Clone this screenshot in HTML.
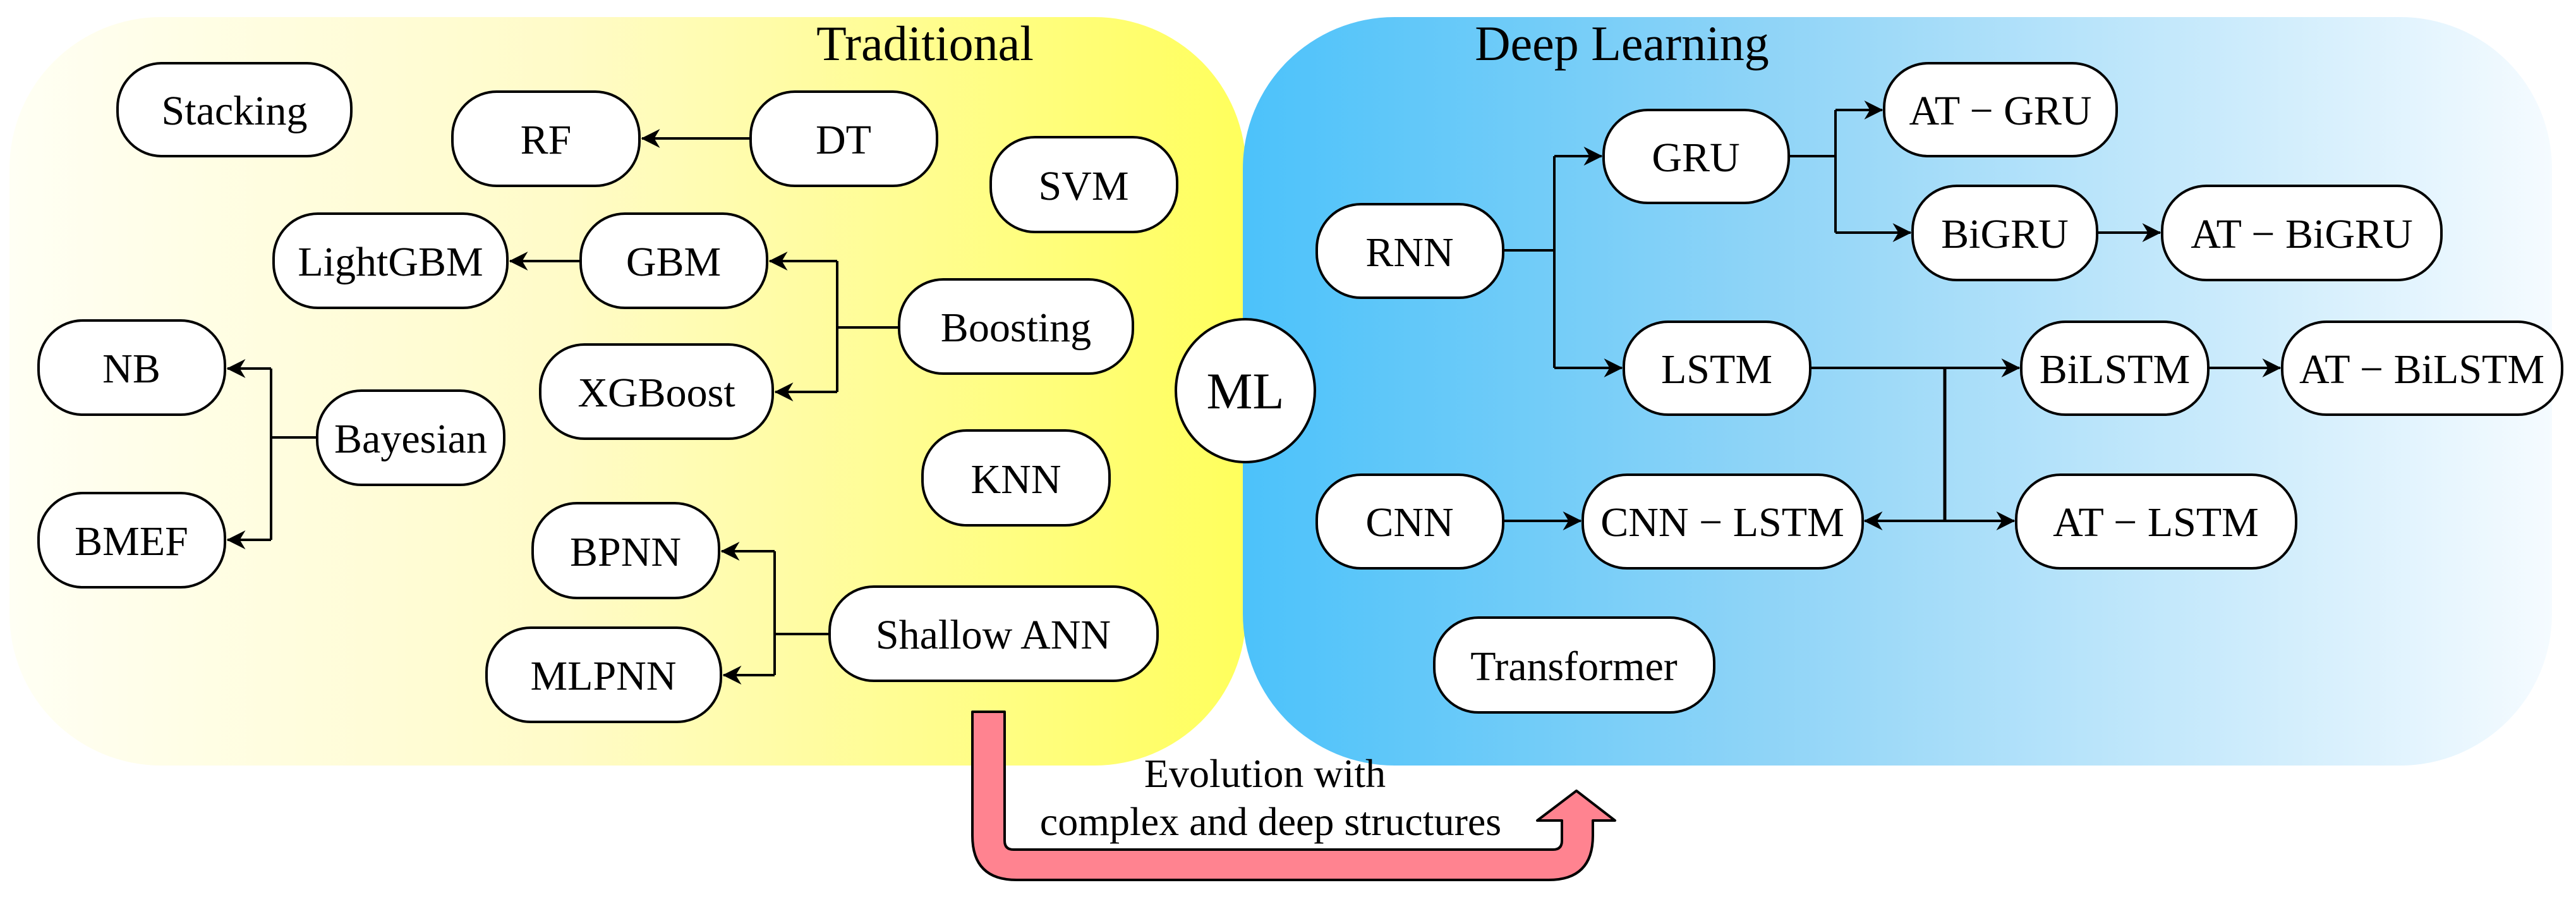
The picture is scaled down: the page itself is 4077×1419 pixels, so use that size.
<!DOCTYPE html>
<html><head><meta charset="utf-8"><style>html,body{margin:0;padding:0;background:#fff}svg{display:block}</style></head>
<body>
<svg width="4077" height="1419" viewBox="0 0 4077 1419" xmlns="http://www.w3.org/2000/svg" font-family="'Liberation Serif', serif">
<defs>
<linearGradient id="gy" x1="0" x2="1" y1="0" y2="0"><stop offset="0" stop-color="#fffff4"/><stop offset="0.45" stop-color="#fffbc8"/><stop offset="1" stop-color="#ffff5c"/></linearGradient>
<linearGradient id="gb" x1="0" x2="1" y1="0" y2="0"><stop offset="0" stop-color="#4cc2fa"/><stop offset="0.4" stop-color="#8fd4f7"/><stop offset="1" stop-color="#f5fbff"/></linearGradient>
<marker id="A" viewBox="0 0 10 10" refX="9.5" refY="5" markerWidth="40" markerHeight="30" markerUnits="userSpaceOnUse" orient="auto"><path d="M0,0 L10,5 L0,10 L3,5 z" fill="#000"/></marker>
</defs>
<rect x="15" y="27" width="1957" height="1184" rx="240" fill="url(#gy)"/>
<rect x="1967" y="27" width="2072" height="1184" rx="240" fill="url(#gb)"/>
<text x="1464" y="95" font-size="78" text-anchor="middle">Traditional</text>
<text x="2567" y="95" font-size="78" text-anchor="middle">Deep Learning</text>
<g stroke="#000" stroke-width="4" fill="none">
<line x1="1188" y1="219" x2="1016" y2="219" marker-end="url(#A)"/>
<line x1="919" y1="413" x2="807" y2="413" marker-end="url(#A)"/>
<path d="M1423,518 H1325"/><path d="M1325,413 V620"/>
<line x1="1325" y1="413" x2="1218" y2="413" marker-end="url(#A)"/>
<line x1="1325" y1="620" x2="1227" y2="620" marker-end="url(#A)"/>
<path d="M502,692 H429"/><path d="M429,583 V854"/>
<line x1="429" y1="583" x2="360" y2="583" marker-end="url(#A)"/>
<line x1="429" y1="854" x2="360" y2="854" marker-end="url(#A)"/>
<path d="M1313,1003 H1226"/><path d="M1226,872 V1068"/>
<line x1="1226" y1="872" x2="1142" y2="872" marker-end="url(#A)"/>
<line x1="1226" y1="1068" x2="1145" y2="1068" marker-end="url(#A)"/>
<path d="M2379,396 H2460"/><path d="M2460,247 V582"/>
<line x1="2460" y1="247" x2="2535" y2="247" marker-end="url(#A)"/>
<line x1="2460" y1="582" x2="2567" y2="582" marker-end="url(#A)"/>
<path d="M2831,247 H2905"/><path d="M2905,174 V368"/>
<line x1="2905" y1="174" x2="2979" y2="174" marker-end="url(#A)"/>
<line x1="2905" y1="368" x2="3024" y2="368" marker-end="url(#A)"/>
<line x1="3319" y1="368" x2="3419" y2="368" marker-end="url(#A)"/>
<line x1="2865" y1="582" x2="3196" y2="582" marker-end="url(#A)"/>
<line x1="3495" y1="582" x2="3609" y2="582" marker-end="url(#A)"/>
<path d="M3078,582 V824" stroke-width="5"/>
<line x1="3078" y1="824" x2="2951" y2="824" marker-end="url(#A)"/>
<line x1="3078" y1="824" x2="3188" y2="824" marker-end="url(#A)"/>
<line x1="2379" y1="824" x2="2502" y2="824" marker-end="url(#A)"/>
</g>
<g fill="#fff" stroke="#000" stroke-width="4">
<rect x="186" y="100" width="370" height="147" rx="70"/>
<rect x="716" y="145" width="296" height="149" rx="70"/>
<rect x="1188" y="145" width="295" height="149" rx="70"/>
<rect x="1568" y="217" width="295" height="150" rx="70"/>
<rect x="433" y="338" width="370" height="149" rx="70"/>
<rect x="919" y="338" width="295" height="149" rx="70"/>
<rect x="1423" y="442" width="370" height="149" rx="70"/>
<rect x="855" y="545" width="368" height="149" rx="70"/>
<rect x="61" y="507" width="295" height="149" rx="70"/>
<rect x="502" y="618" width="296" height="149" rx="70"/>
<rect x="61" y="780" width="295" height="149" rx="70"/>
<rect x="1460" y="681" width="296" height="150" rx="70"/>
<rect x="843" y="796" width="295" height="150" rx="70"/>
<rect x="770" y="993" width="371" height="149" rx="70"/>
<rect x="1313" y="928" width="519" height="149" rx="70"/>
<rect x="2538" y="174" width="293" height="147" rx="70"/>
<rect x="2982" y="100" width="368" height="147" rx="70"/>
<rect x="2084" y="323" width="295" height="148" rx="70"/>
<rect x="3027" y="294" width="292" height="149" rx="70"/>
<rect x="3422" y="294" width="442" height="149" rx="70"/>
<rect x="2570" y="509" width="295" height="147" rx="70"/>
<rect x="3199" y="509" width="296" height="147" rx="70"/>
<rect x="3612" y="509" width="443" height="147" rx="70"/>
<rect x="2084" y="751" width="295" height="148" rx="70"/>
<rect x="2505" y="751" width="443" height="148" rx="70"/>
<rect x="3191" y="751" width="443" height="148" rx="70"/>
<rect x="2270" y="977" width="443" height="150" rx="70"/>
<ellipse cx="1971" cy="618" rx="110" ry="113"/>
</g>
<g font-size="66" text-anchor="middle" fill="#000">
<text x="371" y="197">Stacking</text>
<text x="864" y="243">RF</text>
<text x="1335" y="243">DT</text>
<text x="1715" y="316">SVM</text>
<text x="618" y="436">LightGBM</text>
<text x="1066" y="436">GBM</text>
<text x="1608" y="540">Boosting</text>
<text x="1039" y="643">XGBoost</text>
<text x="208" y="605">NB</text>
<text x="650" y="716">Bayesian</text>
<text x="208" y="878">BMEF</text>
<text x="1608" y="780">KNN</text>
<text x="990" y="895">BPNN</text>
<text x="955" y="1091">MLPNN</text>
<text x="1572" y="1026">Shallow ANN</text>
<text x="2684" y="271">GRU</text>
<text x="3166" y="197">AT − GRU</text>
<text x="2231" y="421">RNN</text>
<text x="3173" y="392">BiGRU</text>
<text x="3643" y="392">AT − BiGRU</text>
<text x="2717" y="606">LSTM</text>
<text x="3347" y="606">BiLSTM</text>
<text x="3833" y="606">AT − BiLSTM</text>
<text x="2231" y="848">CNN</text>
<text x="2726" y="848">CNN − LSTM</text>
<text x="3412" y="848">AT − LSTM</text>
<text x="2491" y="1076">Transformer</text>
<text x="1971" y="646" font-size="82">ML</text>
</g>
<path d="M1539,1126 H1590 V1330 Q1590,1344 1604,1344 H2458 Q2472,1344 2472,1330 V1298 H2433 L2495,1251 L2556,1298 H2521 V1322 Q2521,1392 2451,1392 H1609 Q1539,1392 1539,1322 Z" fill="#ff8390" stroke="#000" stroke-width="4" stroke-linejoin="round"/>
<g font-size="64" text-anchor="middle" fill="#000">
<text x="2002" y="1245">Evolution with</text>
<text x="2011" y="1321">complex and deep structures</text>
</g>
</svg>
</body></html>
